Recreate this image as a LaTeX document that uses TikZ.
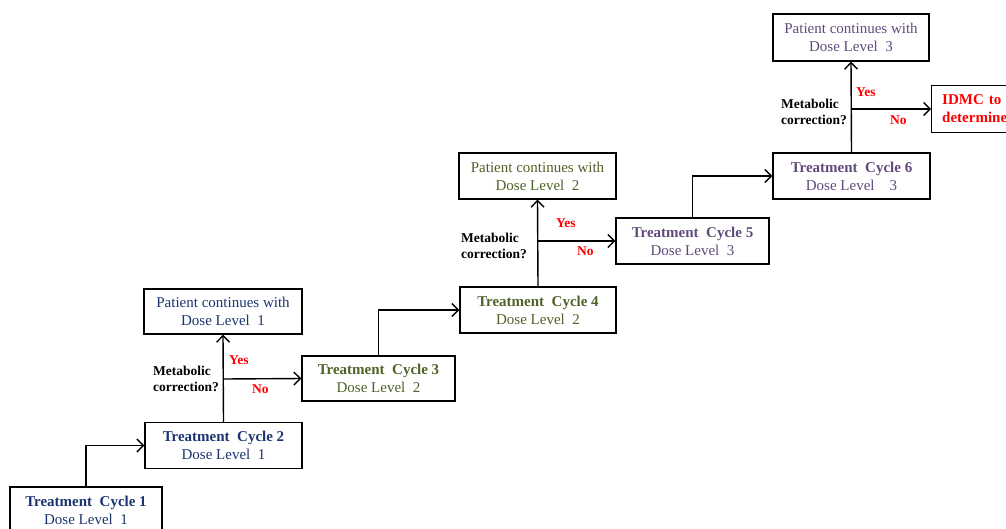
\documentclass[tikz,border=0pt]{standalone}
\usepackage{fontspec}
\setmainfont{Liberation Serif}
\usetikzlibrary{arrows.meta}
\definecolor{cblue}{HTML}{1B3470}
\definecolor{cgreen}{HTML}{4F6228}
\definecolor{cpurple}{HTML}{604A7B}
\definecolor{cred}{HTML}{FF0000}
\tikzset{
  box/.style={draw=black, line width=1.4pt, rectangle, align=center, inner sep=0pt,
    font=\fontsize{15}{18}\selectfont},
  wbox/.style={box, minimum width=157pt, minimum height=46pt},
  nbox/.style={box, minimum width=153pt, minimum height=46pt},
  conn/.style={draw=black, line width=1.4pt, -{Straight Barb[length=6.5pt,width=13pt,line width=1.4pt]}},
  qlab/.style={font=\fontsize{13.5}{16.5}\selectfont\bfseries, align=left, inner sep=0pt},
  yn/.style={font=\fontsize{13.5}{16}\selectfont\bfseries, text=cred, inner sep=0pt}
}
\begin{document}
\begin{tikzpicture}[x=1pt,y=-1pt]
\useasboundingbox (0,0) rectangle (1006,528);
\clip (0,0) rectangle (1006,528);
% boxes
\node[nbox, minimum width=152pt, text=cblue] (tc1) at (86,510) {\textbf{Treatment\ \ Cycle 1}\\Dose Level\ \ 1};
\node[wbox, text=cblue] (tc2) at (223.5,445.5) {\textbf{Treatment\ \ Cycle 2}\\Dose Level\ \ 1};
\node[wbox, minimum width=158pt, minimum height=45pt, text=cblue] (p1) at (223,311.5) {Patient continues with\\Dose Level\ \ 1};
\node[nbox, minimum height=45pt, text=cgreen] (tc3) at (378.5,378.5) {\textbf{Treatment\ \ Cycle 3}\\Dose Level\ \ 2};
\node[wbox, minimum width=156pt, text=cgreen] (tc4) at (538,310) {\textbf{Treatment\ \ Cycle 4}\\Dose Level\ \ 2};
\node[wbox, text=cgreen] (p2) at (537.5,176) {Patient continues with\\Dose Level\ \ 2};
\node[nbox, text=cpurple] (tc5) at (692.5,241) {\textbf{Treatment\ \ Cycle 5}\\Dose Level\ \ 3};
\node[wbox, text=cpurple] (tc6) at (851.5,176) {\textbf{Treatment\ \ Cycle 6}\\Dose Level\ \ \ \ 3};
\node[wbox, minimum width=156pt, minimum height=47pt, text=cpurple] (p3) at (851,37.5) {Patient continues with\\Dose Level\ \ 3};
\node[box, text width=100pt, minimum height=47pt, anchor=west, align=left, text=cred,
  font=\fontsize{15}{18}\selectfont\bfseries, inner xsep=10.5pt] (idmc) at (931,109) {IDMC to\\determine};
% branch points
\coordinate (b1) at (tc2.north |- 0,379);
\coordinate (b2) at (tc4.north |- 0,241);
\coordinate (b3) at (tc6.north |- 0,109);
% connectors
\draw[conn] (tc1.north) |- (tc2.west);
\draw[conn] (tc2.north) -- (p1.south);
\draw[conn] (b1) -- (tc3.west);
\draw[conn] (tc3.north) |- (tc4.west);
\draw[conn] (tc4.north) -- (p2.south);
\draw[conn] (b2) -- (tc5.west);
\draw[conn] (tc5.north) |- (tc6.west);
\draw[conn] (tc6.north) -- (p3.south);
\draw[conn] (b3) -- (idmc.west);
% labels
\node[qlab, anchor=west] (q1) at (153,379) {Metabolic\\correction?};
\node[yn, anchor=west] (y1) at (229,360) {Yes};
\node[yn, anchor=west] (n1) at (252,389) {No};
\node[qlab, anchor=west] (q2) at (461,246) {Metabolic\\correction?};
\node[yn, anchor=west] (y2) at (556,223) {Yes};
\node[yn, anchor=west] (n2) at (577,251) {No};
\node[qlab, anchor=west] (q3) at (781,112) {Metabolic\\correction?};
\node[yn, anchor=west] (y3) at (856,92) {Yes};
\node[yn, anchor=west] (n3) at (890,120) {No};
\end{tikzpicture}
\end{document}
